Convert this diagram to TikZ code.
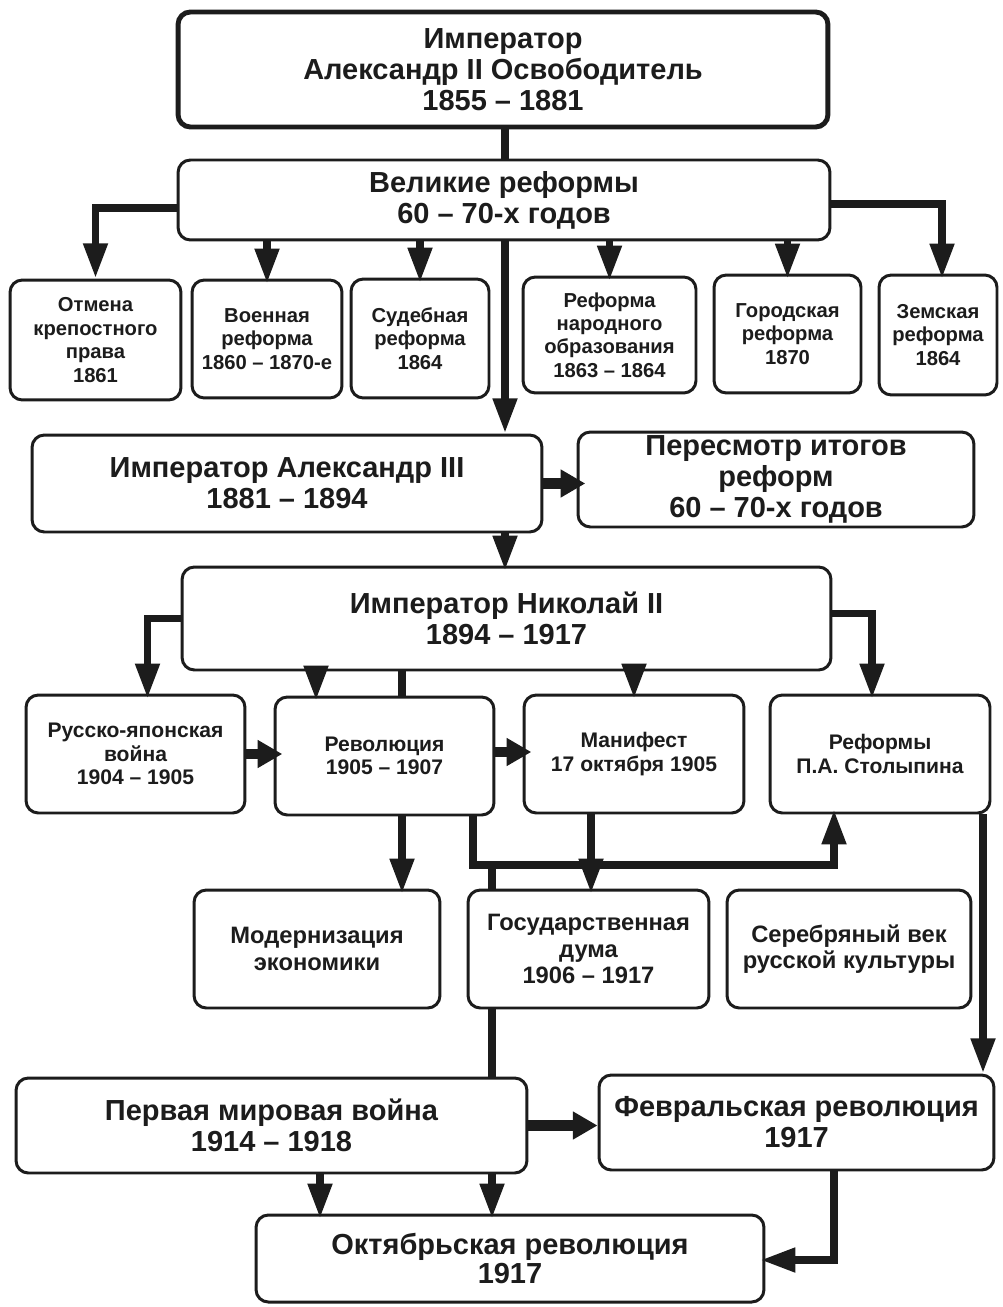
\documentclass[tikz,border=0pt]{standalone}
\usepackage{fontspec}
\setmainfont{Liberation Sans}
\usetikzlibrary{arrows.meta,calc}
\definecolor{ink}{HTML}{1C1C1C}
\begin{document}
\begin{tikzpicture}[x=0.02cm,y=-0.02cm,
  box/.style={draw=ink, text=ink, line width=1.7pt, rounded corners=7pt, align=center, inner sep=0pt},
  big/.style={font=\bfseries\fontsize{16.5}{17.6}\selectfont},
  mid/.style={font=\bfseries\fontsize{13.5}{15}\selectfont},
  sml/.style={font=\bfseries\fontsize{12}{13.2}\selectfont},
  tiny/.style={font=\bfseries\fontsize{11.5}{13.3}\selectfont},
  conn/.style={draw=ink, line width=4.5pt, line join=miter},
  arr/.style={conn, -{Triangle[width=13pt,length=20pt]}, shorten >=-3pt},
  harr/.style={draw=ink, line width=6pt, -{Triangle[width=15pt,length=14pt]}, shorten >=-5pt}
]
\fill[white] (0,0) rectangle (1002,1307);
\useasboundingbox (0,0) rectangle (1002,1307);

% boxes
\node[box, big, line width=2.8pt, minimum width=13cm, minimum height=2.3cm] (top) at (503,69.5) {Император\\Александр II Освободитель\\1855 – 1881};
\node[box, big, minimum width=13.04cm, minimum height=1.6cm] (gr) at (504,200) {Великие реформы\\60 – 70-х годов};

\node[box, tiny, minimum width=3.42cm, minimum height=2.4cm] (otm) at (95.5,340) {Отмена\\крепостного\\права\\1861};
\node[box, tiny, minimum width=3.0cm, minimum height=2.36cm] (voen) at (267,339) {Военная\\реформа\\1860 – 1870-е};
\node[box, tiny, minimum width=2.76cm, minimum height=2.38cm] (sud) at (420,338.5) {Судебная\\реформа\\1864};
\node[box, tiny, minimum width=3.46cm, minimum height=2.32cm] (nar) at (609.5,335) {Реформа\\народного\\образования\\1863 – 1864};
\node[box, tiny, minimum width=2.94cm, minimum height=2.36cm] (gor) at (787.5,334) {Городская\\реформа\\1870};
\node[box, tiny, minimum width=2.36cm, minimum height=2.4cm] (zem) at (938,335) {Земская\\реформа\\1864};

\node[box, big, minimum width=10.2cm, minimum height=1.94cm] (al3) at (287,483.5) {Император Александр III\\1881 – 1894};
\node[box, big, minimum width=7.92cm, minimum height=1.9cm] (per) at (776,479.5) {Пересмотр итогов\\реформ\\60 – 70-х годов};

\node[box, big, minimum width=12.98cm, minimum height=2.06cm] (nik) at (506.5,618.5) {Император Николай II\\1894 – 1917};

\node[box, sml, minimum width=4.38cm, minimum height=2.36cm] (rus) at (135.5,754) {Русско-японская\\война\\1904 – 1905};
\node[box, sml, minimum width=4.38cm, minimum height=2.36cm] (rev) at (384.5,756) {Революция\\1905 – 1907};
\node[box, sml, minimum width=4.4cm, minimum height=2.36cm] (man) at (634,754) {Манифест\\17 октября 1905};
\node[box, sml, minimum width=4.4cm, minimum height=2.36cm] (sto) at (880,754) {Реформы\\П.А. Столыпина};

\node[box, mid, minimum width=4.92cm, minimum height=2.36cm] (mod) at (317,949) {Модернизация\\экономики};
\node[box, mid, minimum width=4.82cm, minimum height=2.36cm] (duma) at (588.5,949) {Государственная\\дума\\1906 – 1917};
\node[box, mid, minimum width=4.88cm, minimum height=2.36cm] (ser) at (849,949) {Серебряный век\\русской культуры};

\node[box, big, minimum width=10.22cm, minimum height=1.9cm] (pmv) at (271.5,1125.5) {Первая мировая война\\1914 – 1918};
\node[box, big, minimum width=7.9cm, minimum height=1.9cm] (feb) at (796.5,1122.5) {Февральская революция\\1917};
\node[box, big, font=\bfseries\fontsize{16.5}{16}\selectfont, minimum width=10.16cm, minimum height=1.74cm] (okt) at (510,1258.5) {Октябрьская революция\\1917};

% helper coordinates
\coordinate (cx) at (505,0);
\coordinate (a316) at (316,0);
\coordinate (a402) at (402,0);
\coordinate (a473) at (473,865);
\coordinate (a492) at (492,865);
\coordinate (a834) at (834,865);
\coordinate (a591) at (591,0);
\coordinate (a983) at (983,0);
\coordinate (a320) at (320,0);
\coordinate (a834b) at (834,1260);

% connectors
\draw[conn] (cx |- top.south) -- (cx |- gr.north);
\draw[arr, shorten >=0pt] ($(gr.west)+(0,8)$) -| (otm.north);
\draw[arr] ($(gr.east)+(0,4)$) -| ($(zem.north)+(4,0)$);
\foreach \n in {voen,sud,nar,gor}
  \draw[arr] (\n.north |- gr.south) -- (\n.north);
\draw[arr, shorten >=0pt] (cx |- gr.south) -- (cx |- al3.north);
\draw[harr] (al3.east) -- (al3.east -| per.west);
\draw[arr] (cx |- al3.south) -- (cx |- nik.north);
\draw[arr] (nik.west) -| ($(rus.north)+(12,0)$);
\draw[arr] ($(nik.east)+(0,-5)$) -| ($(sto.north)+(-8,0)$);
\draw[arr] (a316 |- nik.south) -- (a316 |- rev.north);
\draw[conn] (a402 |- nik.south) -- (a402 |- rev.north);
\draw[arr] (man.north |- nik.south) -- (man.north);
\draw[harr] (rus.east) -- (rus.east -| rev.west);
\draw[harr] ($(rev.east)+(0,-4)$) -- ($(rev.east -| man.west)+(0,-4)$);
\draw[arr] (a402 |- rev.south) -- (a402 |- mod.north);
\draw[arr] (a473 |- rev.south) -- (a473) -- (a834) -- (a834 |- sto.south);
\draw[conn] (a492) -- (a492 |- duma.north);
\draw[arr] (a591 |- man.south) -- (a591 |- duma.north);
\draw[arr, shorten >=0pt] (a983 |- sto.south) -- (a983 |- feb.north);
\draw[conn] (a492 |- duma.south) -- (a492 |- pmv.north);
\draw[harr, shorten >=0pt] (pmv.east) -- (pmv.east -| feb.west);
\draw[arr] (a320 |- pmv.south) -- (a320 |- okt.north);
\draw[arr] (a492 |- pmv.south) -- (a492 |- okt.north);
\draw[arr] (a834 |- feb.south) -- (a834b) -- (a834b -| okt.east);
\end{tikzpicture}
\end{document}
